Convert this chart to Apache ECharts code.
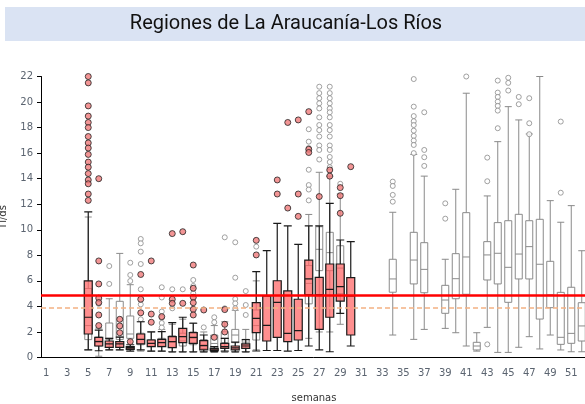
<!DOCTYPE html>
<html>
<head>
<meta charset="utf-8">
<script src="https://cdn.jsdelivr.net/npm/echarts@6/dist/echarts.min.js"></script>
<style>
  html, body { margin: 0; padding: 0; background: #fff; }
  #chart { width: 585px; height: 404px; }
</style>
</head>
<body>
<div id="chart"></div>
<script>
// semanas 1..52
const weeks = ['1','2','3','4','5','6','7','8','9','10','11','12','13','14','15','16','17','18','19','20',
  '21','22','23','24','25','26','27','28','29','30','31','32','33','34','35','36','37','38','39','40',
  '41','42','43','44','45','46','47','48','49','50','51','52'];

// historico (cajas grises): [semana, min, Q1, mediana, Q3, max]
const histBoxes = [
  ['5', 0.6, 1.4, 2.5, 5.4, 11.0],
  ['6', 0.1, 0.9, 1.3, 1.6, 2.3],
  ['7', 0.6, 1.4, 1.5, 2.7, 4.6],
  ['8', 0.6, 1.4, 1.6, 4.4, 8.15],
  ['9', 0.6, 1.5, 1.84, 3.25, 5.7],
  ['10', 0.5, 1.0, 1.4, 1.9, 2.8],
  ['11', 0.5, 0.9, 1.1, 1.4, 2.0],
  ['12', 0.5, 0.9, 1.2, 1.5, 2.2],
  ['13', 0.4, 0.8, 1.2, 1.7, 2.6],
  ['14', 0.4, 0.9, 1.3, 1.9, 3.0],
  ['15', 0.4, 1.0, 1.5, 2.0, 2.7],
  ['16', 0.4, 0.7, 1.0, 1.4, 2.0],
  ['17', 0.4, 0.72, 1.1, 1.76, 2.5],
  ['18', 0.4, 1.16, 1.5, 2.02, 2.8],
  ['19', 0.4, 1.16, 1.76, 2.2, 3.7],
  ['20', 0.4, 0.98, 1.2, 1.42, 2.2],
  ['21', 0.6, 1.37, 2.5, 3.72, 6.0],
  ['26', 1.5, 4.2, 5.8, 7.2, 11.2],
  ['27', 2.0, 6.8, 8.47, 10.24, 14.5],
  ['28', 2.0, 6.8, 8.21, 9.8, 14.2],
  ['29', 2.6, 5.0, 7.0, 8.75, 12.8],
  ['34', 1.76, 5.11, 6.15, 7.69, 11.37],
  ['36', 1.42, 5.76, 7.63, 9.8, 15.9],
  ['37', 2.2, 5.07, 6.9, 8.99, 14.2],
  ['39', 2.28, 3.46, 4.5, 5.65, 7.69],
  ['40', 1.94, 4.6, 6.17, 8.13, 13.17],
  ['41', 0.9, 4.95, 7.87, 11.34, 20.69],
  ['42', 0.5, 0.59, 0.9, 1.19, 1.94],
  ['43', 2.36, 6.07, 8.03, 9.07, 12.65],
  ['44', 0.4, 5.76, 8.16, 10.56, 16.9],
  ['45', 0.4, 4.32, 7.06, 10.71, 19.64],
  ['46', 0.8, 6.15, 8.1, 11.21, 18.6],
  ['47', 1.63, 6.15, 8.68, 10.71, 17.5],
  ['48', 0.67, 3.01, 7.3, 10.82, 22.0],
  ['49', 1.76, 3.9, 4.9, 7.53, 12.28],
  ['50', 0.59, 1.03, 1.58, 5.1, 10.59],
  ['51', 0.45, 1.11, 1.89, 5.5, 11.89],
  ['52', 0.45, 1.29, 2.47, 4.29, 8.36]
];

// historico: valores atipicos [semana, valor]
const histOutliers = [
  ['6', 4.2],
  ['7', 7.16], ['7', 5.76],
  ['9', 7.42], ['9', 6.46], ['9', 5.99],
  ['10', 9.28], ['10', 8.94], ['10', 8.29], ['10', 7.32], ['10', 5.34], ['10', 4.16], ['10', 2.99],
  ['12', 5.5], ['12', 4.7], ['12', 3.6], ['12', 3.1], ['12', 2.7], ['12', 2.35],
  ['13', 5.34], ['13', 3.85],
  ['14', 5.34],
  ['15', 6.07], ['15', 5.6], ['15', 5.03],
  ['16', 2.36],
  ['17', 3.15], ['17', 2.76],
  ['18', 9.41], ['18', 3.85],
  ['19', 9.02], ['19', 6.25], ['19', 4.58], ['19', 4.24], ['19', 3.85],
  ['20', 5.2], ['20', 4.11], ['20', 3.33],
  ['21', 8.68],
  ['26', 17.87], ['26', 16.9], ['26', 16.4], ['26', 14.7], ['26', 13.5], ['26', 13.15], ['26', 12.3],
  ['27', 21.2], ['27', 20.7], ['27', 20.3], ['27', 19.9], ['27', 19.5], ['27', 18.8], ['27', 18.2],
  ['27', 17.8], ['27', 17.3], ['27', 16.6], ['27', 16.25], ['27', 15.5],
  ['28', 21.2], ['28', 20.7], ['28', 20.3], ['28', 19.9], ['28', 19.5], ['28', 19.2], ['28', 18.8],
  ['28', 18.2], ['28', 17.8], ['28', 17.3], ['28', 16.6], ['28', 16.25], ['28', 15.7], ['28', 15.3], ['28', 14.9],
  ['29', 13.6],
  ['34', 13.77], ['34', 13.43], ['34', 12.73], ['34', 12.2],
  ['36', 21.8], ['36', 19.64], ['36', 18.9], ['36', 18.5], ['36', 18.2], ['36', 17.76], ['36', 17.35],
  ['36', 16.98], ['36', 16.64], ['36', 16.0],
  ['37', 19.2], ['37', 16.25], ['37', 15.68], ['37', 15.0],
  ['39', 12.07], ['39', 10.87],
  ['41', 22.0],
  ['43', 15.65], ['43', 13.8], ['43', 1.03],
  ['44', 21.68], ['44', 20.74], ['44', 20.4], ['44', 20.03], ['44', 19.7], ['44', 19.33], ['44', 17.95],
  ['45', 21.9], ['45', 21.5], ['45', 20.9],
  ['46', 20.4], ['46', 19.83],
  ['47', 20.3], ['47', 18.34], ['47', 17.48],
  ['50', 18.47], ['50', 12.9]
];

// temporada actual (cajas rojas)
const curBoxes = [
  ['5', 0.6, 1.84, 3.15, 6.0, 11.4],
  ['6', 0.53, 0.9, 1.24, 1.58, 2.15],
  ['7', 0.6, 0.8, 1.06, 1.29, 1.5],
  ['8', 0.6, 0.8, 1.06, 1.24, 1.6],
  ['9', 0.5, 0.64, 0.75, 0.85, 1.0],
  ['10', 0.59, 1.06, 1.42, 1.84, 2.8],
  ['11', 0.5, 0.85, 1.11, 1.37, 2.0],
  ['12', 0.5, 0.85, 1.16, 1.42, 2.02],
  ['13', 0.45, 0.77, 1.24, 1.63, 2.73],
  ['14', 0.45, 1.16, 1.63, 2.28, 3.15],
  ['15', 0.45, 1.11, 1.58, 1.94, 2.68],
  ['16', 0.45, 0.59, 0.93, 1.32, 1.76],
  ['17', 0.45, 0.53, 0.6, 0.72, 0.85],
  ['18', 0.5, 0.72, 0.85, 1.1, 1.5],
  ['19', 0.45, 0.59, 0.75, 0.9, 1.2],
  ['20', 0.45, 0.72, 0.9, 1.06, 1.4],
  ['21', 0.51, 1.94, 3.07, 4.29, 6.72],
  ['22', 0.55, 1.29, 2.52, 4.82, 8.36],
  ['23', 0.55, 1.58, 4.32, 6.01, 10.5],
  ['24', 0.5, 1.24, 1.89, 5.21, 10.3],
  ['25', 0.55, 1.37, 2.1, 4.56, 8.86],
  ['26', 0.9, 4.9, 6.15, 7.63, 10.3],
  ['27', 0.59, 2.2, 4.9, 6.28, 10.3],
  ['28', 0.45, 3.15, 5.34, 7.32, 12.07],
  ['29', 3.46, 4.42, 5.55, 7.32, 9.2],
  ['30', 0.9, 1.76, 4.82, 6.25, 9.07]
];

const curOutliers = [
  ['5', 22.0], ['5', 21.5], ['5', 19.7], ['5', 18.9], ['5', 18.4], ['5', 18.0], ['5', 17.3], ['5', 16.8],
  ['5', 16.4], ['5', 15.9], ['5', 15.3], ['5', 14.9], ['5', 14.4], ['5', 13.9], ['5', 13.6], ['5', 12.8], ['5', 12.3],
  ['6', 14.0], ['6', 7.56], ['6', 5.76], ['6', 4.65], ['6', 4.3], ['6', 3.33], ['6', 2.5],
  ['8', 2.99], ['8', 2.47], ['8', 1.94],
  ['9', 1.24],
  ['10', 6.5], ['10', 4.56], ['10', 3.5],
  ['11', 7.56], ['11', 3.4], ['11', 2.76],
  ['12', 3.2],
  ['13', 9.7], ['13', 4.56], ['13', 4.24],
  ['14', 9.85], ['14', 4.24],
  ['15', 7.24], ['15', 5.42], ['15', 4.71], ['15', 4.29], ['15', 3.77], ['15', 3.33],
  ['16', 3.72],
  ['17', 1.58],
  ['18', 3.75], ['18', 2.6], ['18', 2.0],
  ['21', 9.17], ['21', 8.03],
  ['23', 13.9], ['23', 12.8],
  ['24', 18.4], ['24', 11.7],
  ['25', 18.6], ['25', 12.8], ['25', 11.05],
  ['26', 19.25], ['26', 16.3], ['26', 16.05],
  ['27', 12.6],
  ['28', 14.68], ['28', 14.2],
  ['29', 13.3], ['29', 12.67], ['29', 11.29],
  ['30', 14.94]
];

// umbrales
const umbralAlto = 4.9;
const umbralBajo = 3.9;

const chart = echarts.init(document.getElementById('chart'));

const option = {
  animation: false,
  backgroundColor: '#fff',
  graphic: [
    { type: 'rect', shape: { x: 5, y: 7, width: 590, height: 34 }, style: { fill: '#DAE3F3' }, z: 0 },
    {
      type: 'text', x: 286, y: 24,
      style: {
        text: 'Regiones de La Araucanía-Los Ríos', fill: '#111',
        font: '20px Roboto, sans-serif',
        align: 'center', verticalAlign: 'middle'
      }, z: 1
    }
  ],
  // outerBoundsMode none: la grilla sobrepasa el borde derecho como en el original
  grid: { left: 41, top: 76.5, width: 546, height: 281, outerBoundsMode: 'none', containLabel: false },
  xAxis: [
    {
      type: 'category', data: weeks,
      name: 'semanas', nameLocation: 'middle', nameGap: 36,
      nameTextStyle: { color: '#333', fontSize: 10, fontFamily: 'DejaVu Sans' },
      axisLine: { lineStyle: { color: '#000', width: 1 } },
      axisTick: { interval: 0, length: 4, lineStyle: { color: '#000' } },
      axisLabel: { interval: 1, color: '#5b6470', fontSize: 10, fontFamily: 'DejaVu Sans', margin: 11 },
      splitLine: { show: false }
    },
    { type: 'category', data: weeks, show: false }
  ],
  yAxis: {
    type: 'value', min: 0, max: 22, interval: 2,
    name: 'Tl/ds', nameLocation: 'middle', nameGap: 33,
    nameTextStyle: { color: '#333', fontSize: 10, fontFamily: 'DejaVu Sans' },
    axisLine: { show: true, lineStyle: { color: '#000', width: 1 } },
    axisTick: { show: true, length: 4, lineStyle: { color: '#000' } },
    axisLabel: { color: '#5b6470', fontSize: 10, fontFamily: 'DejaVu Sans', margin: 8 },
    splitLine: { show: false }
  },
  series: [
    {
      name: 'historico', type: 'boxplot', xAxisIndex: 0,
      data: histBoxes, encode: { x: 0, y: [1, 2, 3, 4, 5] },
      boxWidth: [7, 7],
      itemStyle: { color: '#fff', borderColor: '#8a8a8a', borderWidth: 1 },
      z: 2
    },
    {
      name: 'historico atipicos', type: 'scatter', xAxisIndex: 0,
      data: histOutliers, symbol: 'circle', symbolSize: 5,
      itemStyle: { color: '#fff', borderColor: '#8a8a8a', borderWidth: 1 },
      z: 2
    },
    {
      name: 'actual', type: 'boxplot', xAxisIndex: 1,
      data: curBoxes, encode: { x: 0, y: [1, 2, 3, 4, 5] },
      boxWidth: [8, 8],
      itemStyle: { color: 'rgba(255,100,100,0.72)', borderColor: '#1a1a1a', borderWidth: 1.2 },
      z: 3
    },
    {
      name: 'actual atipicos', type: 'scatter', xAxisIndex: 1,
      data: curOutliers, symbol: 'circle', symbolSize: 6,
      itemStyle: { color: '#f07a7a', borderColor: '#222', borderWidth: 1 },
      z: 4,
      markLine: {
        silent: true, symbol: ['none', 'none'], label: { show: false },
        data: [
          { yAxis: umbralBajo, lineStyle: { color: '#F4B183', width: 1.5, type: [5, 3] } },
          { yAxis: umbralAlto, lineStyle: { color: '#FF0000', width: 2.5, type: 'solid' } }
        ]
      }
    }
  ]
};

chart.setOption(option);
</script>
</body>
</html>
